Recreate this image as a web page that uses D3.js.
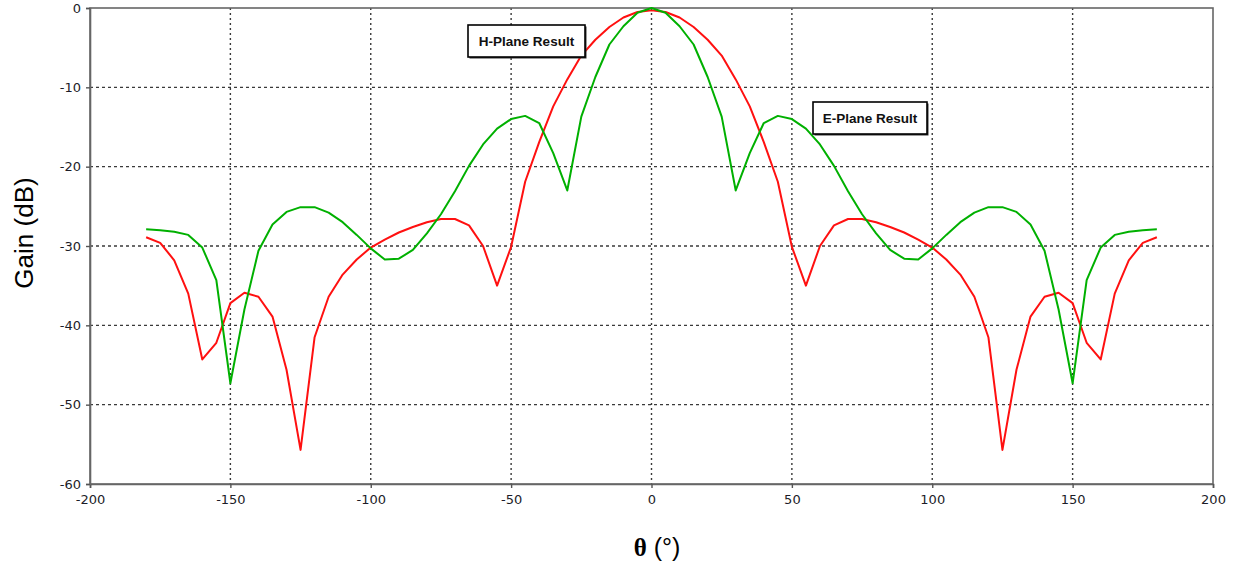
<!DOCTYPE html>
<html>
<head>
<meta charset="utf-8">
<script src="https://cdn.jsdelivr.net/npm/d3@7"></script>
<style>
html,body{margin:0;padding:0;background:#fff;}
svg{display:block;}
</style>
</head>
<body>
<svg id="chart" width="1242" height="571"></svg>
<script>
const angles = [-180,-175,-170,-165,-160,-155,-150,-145,-140,-135,-130,-125,-120,-115,-110,-105,-100,-95,-90,-85,-80,-75,-70,-65,-60,-55,-50,-45,-40,-35,-30,-25,-20,-15,-10,-5,0,5,10,15,20,25,30,35,40,45,50,55,60,65,70,75,80,85,90,95,100,105,110,115,120,125,130,135,140,145,150,155,160,165,170,175,180];

const hPlane = [-28.9,-29.6,-31.8,-36.0,-44.3,-42.2,-37.2,-35.9,-36.4,-38.9,-45.6,-55.7,-41.5,-36.4,-33.6,-31.7,-30.2,-29.2,-28.3,-27.6,-27.0,-26.6,-26.6,-27.4,-30.0,-35.0,-30.1,-21.9,-16.9,-12.4,-9.0,-6.0,-4.0,-2.4,-1.2,-0.5,-0.3,-0.5,-1.2,-2.4,-4.0,-6.0,-9.0,-12.4,-16.9,-21.9,-30.1,-35.0,-30.0,-27.4,-26.6,-26.6,-27.0,-27.6,-28.3,-29.2,-30.2,-31.7,-33.6,-36.4,-41.5,-55.7,-45.6,-38.9,-36.4,-35.9,-37.2,-42.2,-44.3,-36.0,-31.8,-29.6,-28.9];

const ePlane = [-27.9,-28.0,-28.2,-28.6,-30.2,-34.3,-47.3,-38.0,-30.6,-27.3,-25.7,-25.1,-25.1,-25.8,-27.0,-28.6,-30.3,-31.7,-31.6,-30.5,-28.4,-26.0,-23.1,-19.9,-17.2,-15.2,-14.0,-13.6,-14.5,-18.3,-23.0,-13.7,-8.7,-4.6,-2.3,-0.6,0.0,-0.6,-2.3,-4.6,-8.7,-13.7,-23.0,-18.3,-14.5,-13.6,-14.0,-15.2,-17.2,-19.9,-23.1,-26.0,-28.4,-30.5,-31.6,-31.7,-30.3,-28.6,-27.0,-25.8,-25.1,-25.1,-25.7,-27.3,-30.6,-38.0,-47.3,-34.3,-30.2,-28.6,-28.2,-28.0,-27.9];

const xTicks = [-200,-150,-100,-50,0,50,100,150,200];
const yTicks = [0,-10,-20,-30,-40,-50,-60];
const xGrid = [-150,-100,-50,0,50,100,150];
const yGrid = [-10,-20,-30,-40,-50];
const annotations = [
  {label:"H-Plane Result", x0:468, y0:25, w:117, h:32},
  {label:"E-Plane Result", x0:813, y0:102, w:114, h:32}
];

const svg = d3.select("#chart");
const pL = 90, pR = 1213, pT = 8, pB = 484;
const x = d3.scaleLinear().domain([-200,200]).range([pL,pR]);
const y = d3.scaleLinear().domain([-60,0]).range([pB,pT]);
const fmt = d => String(d);

// grid
svg.append("g").selectAll("line").data(xGrid).join("line")
  .attr("x1",d=>x(d)).attr("x2",d=>x(d)).attr("y1",pT).attr("y2",pB)
  .attr("stroke","#3a3a3a").attr("stroke-width",1.4).attr("stroke-dasharray","2,3");
svg.append("g").selectAll("line").data(yGrid).join("line")
  .attr("x1",pL).attr("x2",pR).attr("y1",d=>y(d)).attr("y2",d=>y(d))
  .attr("stroke","#3a3a3a").attr("stroke-width",1.4).attr("stroke-dasharray","3,3");

// frame
svg.append("rect").attr("x",pL).attr("y",pT).attr("width",pR-pL).attr("height",pB-pT)
  .attr("fill","none").attr("stroke","#666").attr("stroke-width",1.6);

// axes
const xAxis = d3.axisBottom(x).tickValues(xTicks).tickFormat(fmt).tickSize(4).tickPadding(7);
const yAxis = d3.axisLeft(y).tickValues(yTicks).tickFormat(fmt).tickSize(4).tickPadding(5);
const gx = svg.append("g").attr("transform",`translate(0,${pB})`).call(xAxis);
const gy = svg.append("g").attr("transform",`translate(${pL},0)`).call(yAxis);
[gx,gy].forEach(g=>{
  g.select(".domain").attr("stroke","#666").attr("stroke-width",1.6);
  g.selectAll(".tick line").attr("stroke","#555").attr("stroke-width",1.4);
  g.selectAll(".tick text").attr("font-family","DejaVu Sans, Verdana, sans-serif")
    .attr("font-size",13).attr("fill","#1c1c28");
});

// lines
const line = d3.line().x((d,i)=>x(angles[i])).y(d=>y(d));
svg.append("path").datum(hPlane).attr("d",line).attr("fill","none")
  .attr("stroke","#ff1010").attr("stroke-width",2).attr("stroke-linejoin","round");
svg.append("path").datum(ePlane).attr("d",line).attr("fill","none")
  .attr("stroke","#00b000").attr("stroke-width",2).attr("stroke-linejoin","round");

// annotations
const ag = svg.append("g").selectAll("g").data(annotations).join("g");
ag.append("rect").attr("x",d=>d.x0+1.5).attr("y",d=>d.y0+1.5).attr("width",d=>d.w).attr("height",d=>d.h)
  .attr("fill","#333");
ag.append("rect").attr("x",d=>d.x0).attr("y",d=>d.y0).attr("width",d=>d.w).attr("height",d=>d.h)
  .attr("fill","#fff").attr("stroke","#000").attr("stroke-width",1.6);
ag.append("text").attr("x",d=>d.x0+d.w/2).attr("y",d=>d.y0+d.h/2+5)
  .attr("text-anchor","middle").attr("font-family","Liberation Sans, Arial, sans-serif")
  .attr("font-weight","bold").attr("font-size",13.5).attr("fill","#111")
  .text(d=>d.label);

// axis titles
svg.append("text").attr("transform","translate(33,233) rotate(-90)")
  .attr("text-anchor","middle").attr("font-family","Liberation Sans, Arial, sans-serif")
  .attr("font-size",26).attr("fill","#000").text("Gain (dB)");
const xt = svg.append("text").attr("x",657).attr("y",556).attr("text-anchor","middle")
  .attr("font-size",25).attr("fill","#000");
xt.append("tspan").attr("font-family","Liberation Serif, Times New Roman, serif").attr("font-weight","bold").text("θ");
xt.append("tspan").attr("font-family","Liberation Sans, Arial, sans-serif").text(" (°)");
</script>
</body>
</html>
